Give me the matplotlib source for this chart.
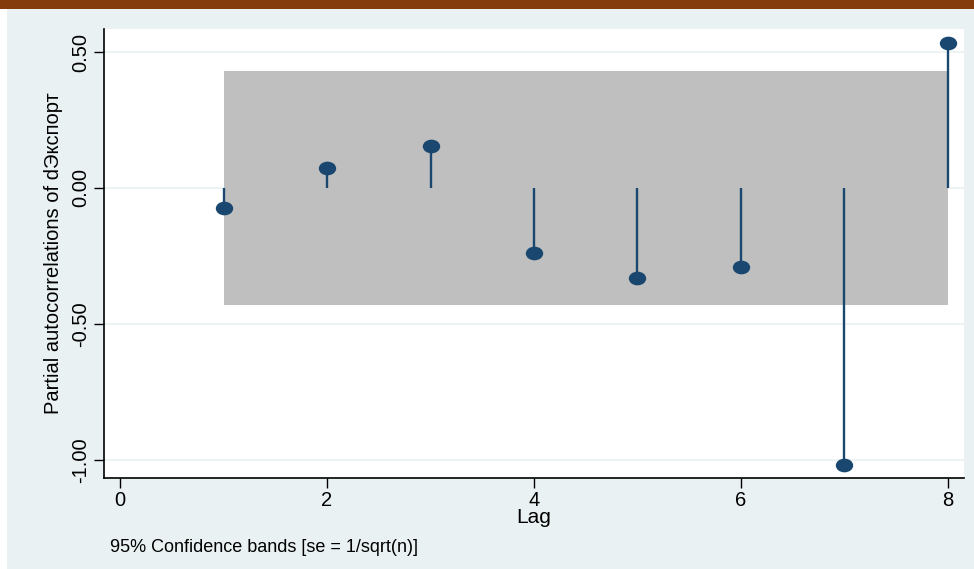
import matplotlib
matplotlib.use("Agg")
import matplotlib.pyplot as plt
from matplotlib.patches import Rectangle
from matplotlib.path import Path
from matplotlib.transforms import Affine2D

plt.rcParams["font.family"] = ["Liberation Sans", "DejaVu Sans"]

lags = [1, 2, 3, 4, 5, 6, 7, 8]
pac = [-0.075, 0.072, 0.156, -0.238, -0.330, -0.290, -1.02, 0.535]
band = 0.43
yticks = [0.5, 0.0, -0.5, -1.0]
ytick_labels = ["0.50", "0.00", "-0.50", "-1.00"]
xticks = [0, 2, 4, 6, 8]

W, H = 974, 569
fig = plt.figure(figsize=(W / 100, H / 100), dpi=100, facecolor="white")
bg = "#eaf1f3"
navy = "#1a476f"

fig.patches.append(Rectangle((7 / W, 0), 1 - 7 / W, 1 - 9 / H, transform=fig.transFigure,
                             facecolor=bg, edgecolor="none", zorder=-10))
fig.patches.append(Rectangle((0, 1 - 9 / H), 1, 9 / H, transform=fig.transFigure,
                             facecolor="#843c0c", edgecolor="none", zorder=-10))

left, right, top, bottom = 104, 964, 29, 478
ax = fig.add_axes([left / W, 1 - bottom / H, (right - left) / W, (bottom - top) / H])
ax.set_zorder(1)
ax.set_facecolor("white")
ax.set_xlim(-0.155, 8.155)
ax.set_ylim(-1.067, 0.585)

for y in yticks:
    ax.axhline(y, color=bg, lw=1.2, zorder=1)

ellipse = Path.unit_circle().transformed(Affine2D().scale(1.3, 1.0))

ax.fill_between([lags[0], lags[-1]], -band, band, color="#bfbfbf", lw=0, zorder=2)
ax.vlines(lags, 0, pac, color=navy, lw=1.7, zorder=3)
ax.plot(lags, pac, linestyle="none", marker=ellipse, color=navy, ms=11.5, zorder=4)

for s in ["top", "right"]:
    ax.spines[s].set_visible(False)
for s in ["left", "bottom"]:
    ax.spines[s].set_linewidth(1.2)

ax.set_yticks(yticks)
ax.set_yticklabels(ytick_labels, rotation=90, va="center")
ax.set_xticks(xticks)
ax.tick_params(axis="both", labelsize=14.5, length=7, width=1, color="black")
ax.tick_params(axis="y", pad=3)
ax.tick_params(axis="x", pad=2)
ax.set_xlabel("Lag", fontsize=15, labelpad=-1)
ax.set_ylabel("Partial autocorrelations of dЭкспорт", fontsize=14.5, labelpad=6)

fig.text(110 / W, 1 - 548 / H, "95% Confidence bands [se = 1/sqrt(n)]", fontsize=13,
         va="center", ha="left")

fig.savefig("out.png", dpi=100, facecolor=fig.get_facecolor())
